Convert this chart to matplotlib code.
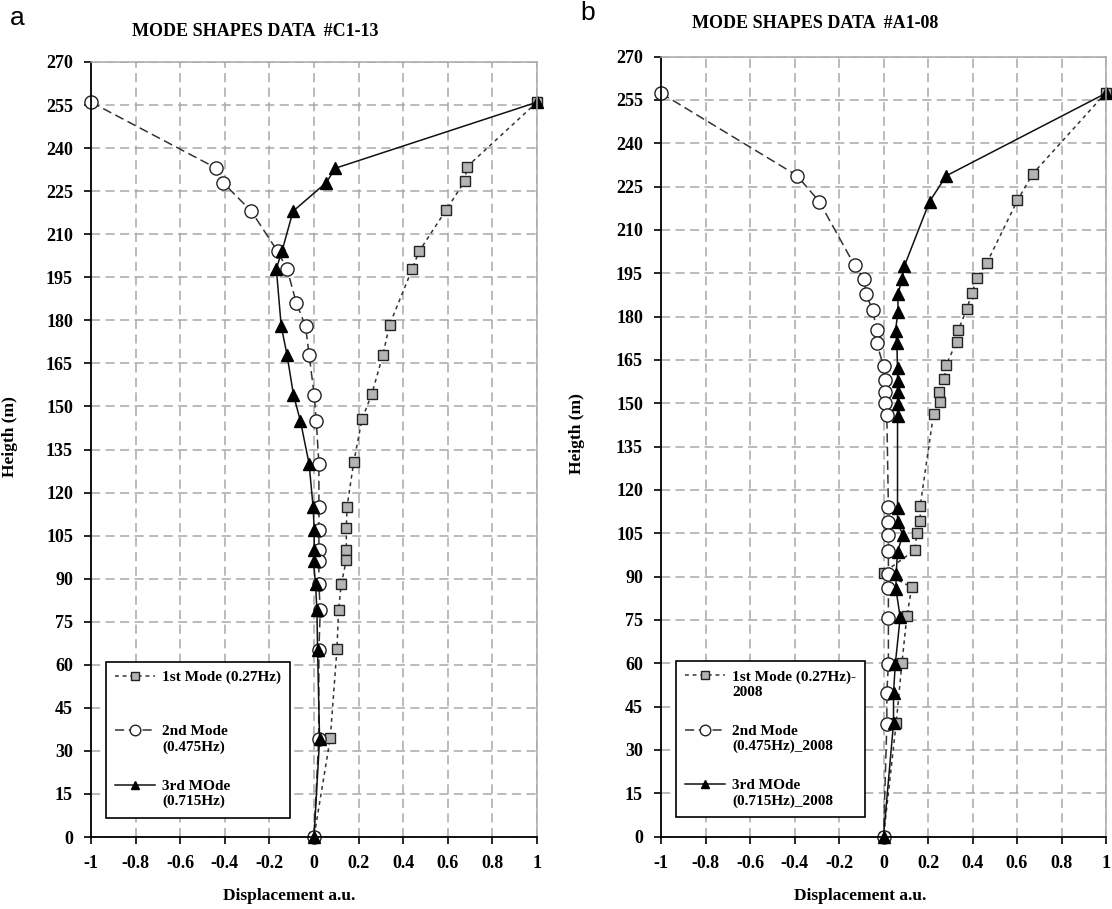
import matplotlib
matplotlib.use('Agg')
import matplotlib.pyplot as plt
import matplotlib.transforms as mtransforms
from matplotlib.legend_handler import HandlerLine2D

plt.rcParams['font.family'] = ['Liberation Serif', 'DejaVu Serif']
plt.rcParams['font.weight'] = 'bold'
plt.rcParams['axes.unicode_minus'] = False

# ---------- data: panel a (#C1-13) ----------
c1_h1 = [256, 233.5, 228.5, 218.5, 204, 198, 178.5, 168, 154.5, 145.5, 130.5, 115, 107.5, 100, 96.5, 88, 79, 65.5, 34.5, 0]
c1_m1 = [1.0, 0.686, 0.676, 0.593, 0.471, 0.441, 0.339, 0.309, 0.260, 0.215, 0.178, 0.148, 0.145, 0.145, 0.145, 0.122, 0.110, 0.103, 0.073, 0.0]
c1_h2 = [256, 233, 228, 218, 204, 198, 186, 178, 168, 154, 145, 130, 115, 107, 100, 96, 88, 79, 65, 34, 0]
c1_m2 = [-1.0, -0.438, -0.408, -0.281, -0.163, -0.121, -0.079, -0.038, -0.022, 0.001, 0.010, 0.022, 0.022, 0.022, 0.022, 0.022, 0.022, 0.028, 0.022, 0.021, 0.0]
c1_h3 = [256, 233, 228, 218, 204, 198, 178, 168, 154, 145, 130, 115, 107, 100, 96, 88, 79, 65, 34, 0]
c1_m3 = [1.0, 0.096, 0.055, -0.094, -0.144, -0.169, -0.147, -0.121, -0.092, -0.061, -0.022, -0.004, 0.001, 0.001, -0.002, 0.007, 0.013, 0.016, 0.025, 0.0]

# ---------- data: panel b (#A1-08) ----------
a1_h1 = [257.5, 229.4, 220.2, 198.5, 193.3, 188.3, 182.5, 175.5, 171.3, 163.3, 158.3, 154, 150.3, 146.3, 114.5, 109.3, 105.2, 99.2, 91.3, 86.3, 76.3, 60.2, 39.2, 0]
a1_m1 = [1.0, 0.671, 0.602, 0.464, 0.419, 0.398, 0.374, 0.337, 0.329, 0.282, 0.273, 0.249, 0.252, 0.225, 0.165, 0.165, 0.150, 0.142, 0.0, 0.127, 0.105, 0.083, 0.057, 0.0]
a1_h2 = [257.3, 228.8, 219.8, 197.7, 192.9, 187.8, 182.1, 175.5, 170.8, 162.7, 158.1, 154, 150, 146, 114, 108.8, 104.4, 98.9, 90.8, 85.9, 75.8, 59.7, 49.8, 38.8, 0]
a1_m2 = [-1.0, -0.389, -0.289, -0.130, -0.087, -0.078, -0.049, -0.030, -0.030, 0.0, 0.008, 0.008, 0.008, 0.015, 0.022, 0.022, 0.022, 0.022, 0.022, 0.022, 0.022, 0.022, 0.015, 0.015, 0.0]
a1_h3 = [257.3, 228.7, 219.8, 197.5, 192.9, 187.7, 181.7, 175.1, 170.8, 162.1, 157.8, 153.7, 149.8, 145.7, 113.8, 108.7, 104.4, 98.6, 90.8, 85.6, 75.9, 59.7, 49.6, 39.2, 0]
a1_m3 = [1.0, 0.282, 0.207, 0.094, 0.083, 0.065, 0.065, 0.054, 0.060, 0.063, 0.063, 0.063, 0.063, 0.063, 0.063, 0.063, 0.087, 0.063, 0.057, 0.056, 0.075, 0.053, 0.045, 0.045, 0.0]

labels_a = ['1st Mode (0.27Hz)\n ', '2nd Mode\n(0.475Hz)', '3rd MOde\n(0.715Hz)']
labels_b = ['1st Mode (0.27Hz)-\n2008', '2nd Mode\n(0.475Hz)_2008', '3rd MOde\n(0.715Hz)_2008']

x_ticks = [-1, -0.8, -0.6, -0.4, -0.2, 0, 0.2, 0.4, 0.6, 0.8, 1]
y_ticks = list(range(0, 271, 15))


# legend handle sits on the first text line (like the original)
class FirstLineHandler(HandlerLine2D):
    def __init__(self, lines=0.5, **kw):
        super().__init__(**kw)
        self.lines = lines

    def create_artists(self, legend, orig_handle, xdescent, ydescent, width, height, fontsize, trans):
        shift = mtransforms.Affine2D().translate(0, self.lines * fontsize * 1.2) + trans
        return super().create_artists(legend, orig_handle, xdescent, ydescent, width, height, fontsize, shift)


def draw_panel(ax, series, labels):
    styles = [
        dict(ls=(0, (2.5, 2.5)), color='#333333', marker='s', ms=7.5, mfc='#b4b4b4', mec='#222222', mew=1.0),
        dict(ls=(0, (6, 3)), color='#333333', marker='o', ms=9.5, mfc='white', mec='#222222', mew=1.0),
        dict(ls='-', color='#111111', marker='^', ms=8, mfc='black', mec='black', mew=1.0),
    ]
    lines = []
    for (h, d), st, lab in zip(series, styles, labels):
        ln, = ax.plot(d, h, lw=1.1, label=lab, clip_on=False, **st)
        lines.append(ln)

    ax.set_xlim(-1, 1)
    ax.set_ylim(0, 270)
    ax.set_xticks(x_ticks)
    ax.set_xticklabels(['%g' % v for v in x_ticks])
    ax.set_yticks(y_ticks)
    ax.grid(True, color='#a8a8a8', ls=(0, (6, 3.5)), lw=1.1)
    ax.set_axisbelow(True)
    for s in ['top', 'right']:
        ax.spines[s].set_color('#a8a8a8')
        ax.spines[s].set_linewidth(1.1)
    for s in ['left', 'bottom']:
        ax.spines[s].set_color('black')
        ax.spines[s].set_linewidth(1.3)
    ax.tick_params(direction='out', length=5, width=1.2, labelsize=13, pad=8)

    ax.set_xlabel('Displacement a.u.', fontsize=12.5, fontweight='bold')
    ax.set_ylabel('Heigth (m)', fontsize=12.5, fontweight='bold')

    hmap = {ln: FirstLineHandler(lines=0.5) for ln in lines}
    leg = ax.legend(handles=lines, loc='lower left', bbox_to_anchor=(0.034, 0.025),
                    borderaxespad=0, fancybox=False, framealpha=1, edgecolor='black',
                    prop={'family': 'Liberation Serif', 'weight': 'bold', 'size': 11},
                    handlelength=2.6, handletextpad=0.45, labelspacing=1.7,
                    borderpad=0.6, markerscale=0.8, handler_map=hmap)
    leg.get_frame().set_linewidth(1.2)
    return leg


fig = plt.figure(figsize=(11.12, 9.09), dpi=100)
W, H = 1112, 909
ax1 = fig.add_axes([91 / W, 1 - 837 / H, 446 / W, 775 / H])
ax2 = fig.add_axes([661 / W, 1 - 836.5 / H, 445 / W, 780 / H])

draw_panel(ax1, [(c1_h1, c1_m1), (c1_h2, c1_m2), (c1_h3, c1_m3)], labels_a)
draw_panel(ax2, [(a1_h1, a1_m1), (a1_h2, a1_m2), (a1_h3, a1_m3)], labels_b)

ax1.xaxis.set_label_coords(0.444, -0.066)
ax2.xaxis.set_label_coords(0.447, -0.066)
ax1.yaxis.set_label_coords(-0.164, 0.517)
ax2.yaxis.set_label_coords(-0.171, 0.516)

fig.text(255 / W, 1 - 31 / H, 'MODE SHAPES DATA  #C1-13', ha='center', va='center', fontsize=13, fontweight='bold')
fig.text(815 / W, 1 - 23 / H, 'MODE SHAPES DATA  #A1-08', ha='center', va='center', fontsize=13, fontweight='bold')
fig.text(10 / W, 1 - 25 / H, 'a', ha='left', va='baseline', fontsize=19, family='Liberation Sans', fontweight='normal')
fig.text(580 / W, 1 - 20 / H, 'b', ha='left', va='baseline', fontsize=19, family='Liberation Sans', fontweight='normal')

fig.savefig('out.png', dpi=100)
